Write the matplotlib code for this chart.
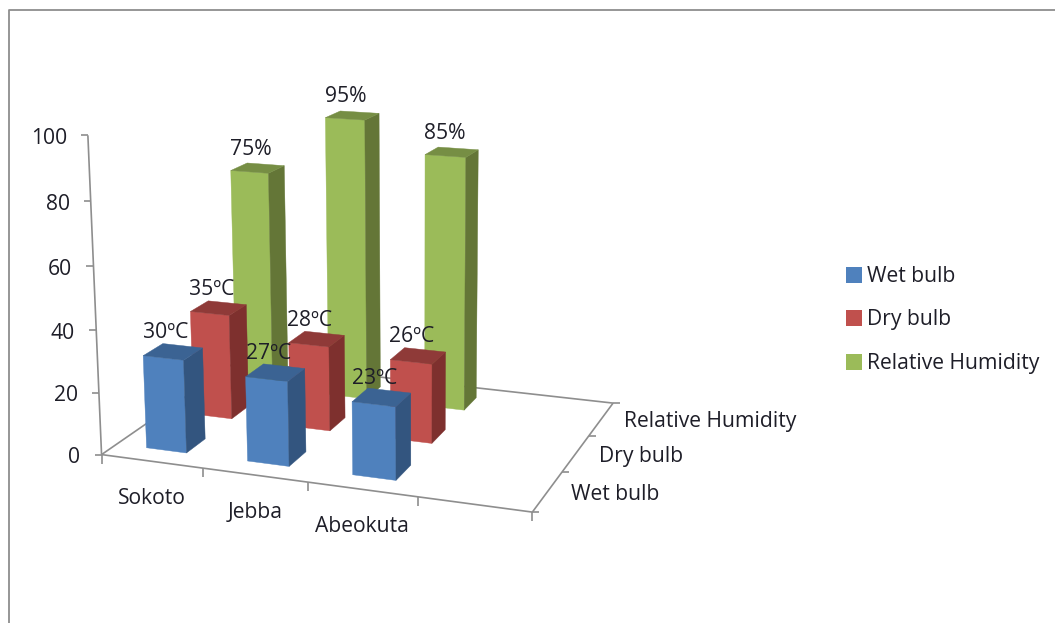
import numpy as np
import matplotlib
matplotlib.use("Agg")
import matplotlib.pyplot as plt
from matplotlib.patches import Polygon, Rectangle

plt.rcParams['font.family'] = ['Open Sans', 'DejaVu Sans']

# dados do grafico
cidades = ["Sokoto", "Jebba", "Abeokuta", ""]
series = ["Wet bulb", "Dry bulb", "Relative Humidity"]
wet_bulb = [30, 27, 23]
dry_bulb = [35, 28, 26]
humidade = [75, 95, 85]
rotulos_wet = ["30ºC", "27ºC", "23ºC"]
rotulos_dry = ["35ºC", "28ºC", "26ºC"]
rotulos_hum = ["75%", "95%", "85%"]
ticks_z = [0, 20, 40, 60, 80, 100]

# cores: frente, lateral, topo
cores = [("#4F81BD", "#33557F", "#3B6393"),
         ("#C0504D", "#7E302E", "#8F3A38"),
         ("#9BBB59", "#647637", "#768E44")]
COR_EIXO = "#8E8E8E"
COR_TEXTO = "#1E1E28"
LARGURA = 0.4
FONTE = 15.2

# pontos de referencia da camera: (x, profundidade, z) -> pixel
ancoras = [
    ((0, 0, 0), (101, 455)), ((0, 0, 100), (89, 135)),
    ((4, 0, 0), (532, 511)), ((4, 3, 0), (612, 404)), ((0, 3, 0), (238, 360)),
    ((1, 0, 0), (203, 468)), ((2, 0, 0), (308, 483)), ((3, 0, 0), (417, 497)),
    ((4, 1, 0), (563, 471)), ((4, 2, 0), (590, 436)),
    ((0.3, 0.3, 30), (143, 356)), ((2.3, 2.3, 85), (426, 154)),
    ((1.3, 2.3, 95), (325, 118)), ((0.3, 2.3, 75), (229, 171)),
]


def ajustar_camera(pontos):
    linhas, alvo = [], []
    for (x, d, z), (px, py) in pontos:
        linhas.append([x, d, z, 1, 0, 0, 0, 0, -px * x, -px * d, -px * z])
        linhas.append([0, 0, 0, 0, x, d, z, 1, -py * x, -py * d, -py * z])
        alvo += [px, py]
    sol = np.linalg.lstsq(np.array(linhas, float), np.array(alvo, float), rcond=None)[0]
    return np.append(sol, 1).reshape(3, 4)


CAMERA = ajustar_camera(ancoras)


def proj(x, d, z):
    u = CAMERA @ np.array([x, d, z, 1.0])
    return u[0] / u[2], u[1] / u[2]


def desenhar_barra(ax, i, j, valor, cor):
    x0, x1 = i + 0.5 - LARGURA / 2, i + 0.5 + LARGURA / 2
    d0, d1 = j + 0.5 - LARGURA / 2, j + 0.5 + LARGURA / 2
    frente = [proj(x0, d0, 0), proj(x1, d0, 0), proj(x1, d0, valor), proj(x0, d0, valor)]
    lado = [proj(x1, d0, 0), proj(x1, d1, 0), proj(x1, d1, valor), proj(x1, d0, valor)]
    topo = [proj(x0, d0, valor), proj(x1, d0, valor), proj(x1, d1, valor), proj(x0, d1, valor)]
    for pts, c in zip((frente, lado, topo), cor):
        ax.add_patch(Polygon(pts, closed=True, facecolor=c, edgecolor=c, lw=0.3, zorder=3))


def linha(ax, a, b):
    ax.plot([a[0], b[0]], [a[1], b[1]], color=COR_EIXO, lw=1.2, solid_capstyle="butt", zorder=2)


fig = plt.figure(figsize=(10.55, 6.23), dpi=100)
ax = fig.add_axes([0, 0, 1, 1])
ax.set_xlim(0, 1055)
ax.set_ylim(623, 0)
ax.axis("off")

# moldura (so esquerda e topo aparecem)
ax.plot([8.5, 8.5, 1055], [623, 9.5, 9.5], color=COR_EIXO, lw=1.3)

# piso e eixos
n_cat = len(cidades)
n_prof = len(series)
linha(ax, proj(0, 0, 0), proj(n_cat, 0, 0))
linha(ax, proj(n_cat, 0, 0), proj(n_cat, n_prof, 0))
linha(ax, proj(n_cat, n_prof, 0), proj(0, n_prof, 0))
linha(ax, proj(0, n_prof, 0), proj(0, 0, 0))
linha(ax, proj(0, 0, 0), proj(0, 0, ticks_z[-1]))

for z in ticks_z:
    px, py = proj(0, 0, z)
    linha(ax, (px - 7, py), (px, py))
    ax.text(px - 21, py + 3, str(z), ha="right", va="center", fontsize=FONTE, color=COR_TEXTO)

for i in range(n_cat + 1):
    px, py = proj(i, 0, 0)
    linha(ax, (px, py), (px, py + 9))
for i, nome in enumerate(cidades):
    px, py = proj(i + 0.5, 0, 0)
    ax.text(px, py + 37, nome, ha="center", va="center", fontsize=FONTE, color=COR_TEXTO)

for j in range(n_prof + 1):
    px, py = proj(n_cat, j, 0)
    linha(ax, (px, py), (px + 7, py))
for j, nome in enumerate(series):
    px, py = proj(n_cat + 0, j + 0.5, 0)
    ax.text(px + 23, py + 3, nome, ha="left", va="center", fontsize=FONTE, color=COR_TEXTO)

# barras de tras para frente
valores = [wet_bulb, dry_bulb, humidade]
rotulos = [rotulos_wet, rotulos_dry, rotulos_hum]
for j in reversed(range(n_prof)):
    for i, v in enumerate(valores[j]):
        desenhar_barra(ax, i, j, v, cores[j])

for j in reversed(range(n_prof)):
    for i, v in enumerate(valores[j]):
        px, py = proj(i + 0.5, j + 0.5, v)
        ax.text(px - 7, py - 19, rotulos[j][i], ha="center", va="center",
                fontsize=FONTE, color=COR_TEXTO, zorder=4)

# legenda
for nome, cor, y in zip(series, cores, [275, 318, 362]):
    ax.add_patch(Rectangle((846, y - 8), 16, 16, facecolor=cor[0], edgecolor="none"))
    ax.text(867, y + 1.5, nome, ha="left", va="center", fontsize=FONTE, color=COR_TEXTO)

fig.savefig("out.png", dpi=100)
